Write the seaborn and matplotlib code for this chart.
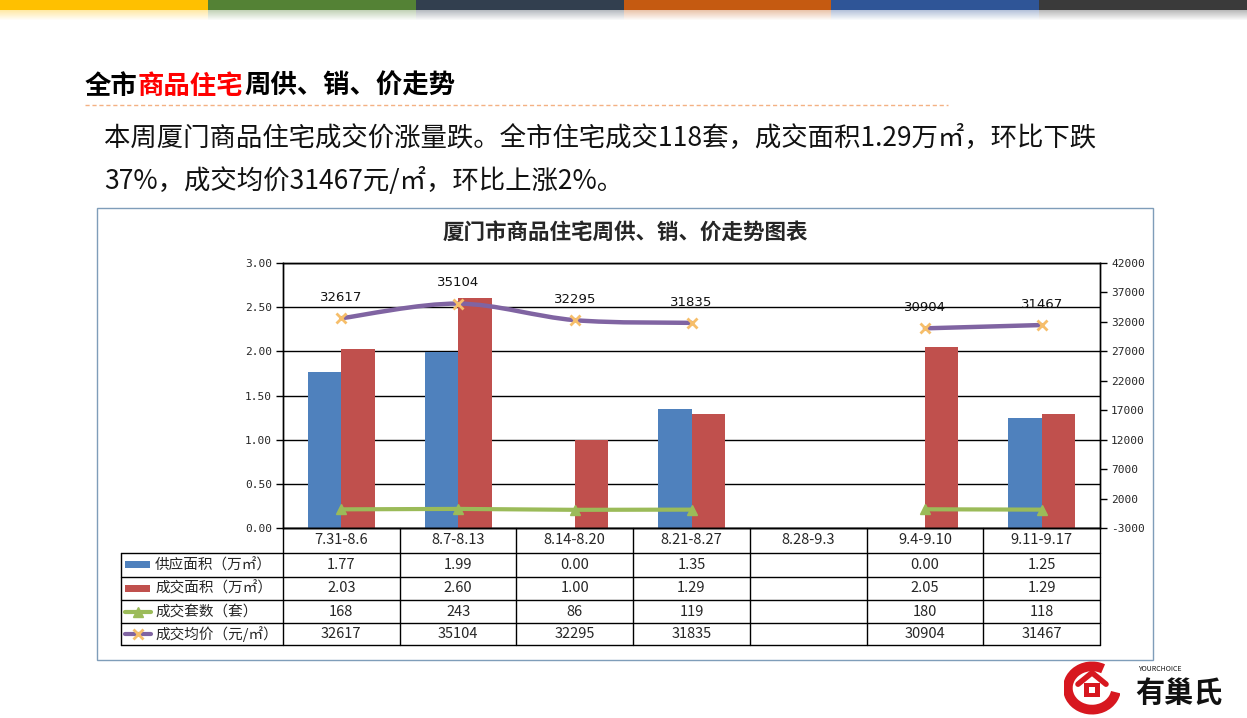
import numpy as np
import pandas as pd
import matplotlib
matplotlib.use("Agg")
import matplotlib.pyplot as plt
import seaborn as sns
from matplotlib.path import Path
from matplotlib.patches import PathPatch, Rectangle, Arc
from matplotlib.lines import Line2D
import matplotlib.transforms as mtransforms

# ---------------- data ----------------
categories = ['7.31-8.6', '8.7-8.13', '8.14-8.20', '8.21-8.27', '8.28-9.3', '9.4-9.10', '9.11-9.17']
supply_area = [1.77, 1.99, 0.00, 1.35, np.nan, 0.00, 1.25]      # 供应面积（万㎡）
deal_area = [2.03, 2.60, 1.00, 1.29, np.nan, 2.05, 1.29]        # 成交面积（万㎡）
deal_units = [168, 243, 86, 119, np.nan, 180, 118]              # 成交套数（套）
avg_price = [32617, 35104, 32295, 31835, np.nan, 30904, 31467]  # 成交均价（元/㎡）
series_names = ['供应面积（万㎡）', '成交面积（万㎡）', '成交套数（套）', '成交均价（元/㎡）']
table_fmt = ['{:.2f}', '{:.2f}', '{:.0f}', '{:.0f}']
left_ticks = [0.0, 0.5, 1.0, 1.5, 2.0, 2.5, 3.0]
right_ticks = [-3000, 2000, 7000, 12000, 17000, 22000, 27000, 32000, 37000, 42000]
band_colors = ['#FFC000', '#548235', '#323F4F', '#C55A11', '#2F5597', '#3A3A3A']

page_title = ['全市', '商品住宅', '周供、销、价走势']
paragraph = ['本周厦门商品住宅成交价涨量跌。全市住宅成交118套，成交面积1.29万㎡，环比下跌',
             '37%，成交均价31467元/㎡，环比上涨2%。']
chart_title = '厦门市商品住宅周供、销、价走势图表'

# colours
C_BLUE, C_RED, C_GREEN, C_PURPLE, C_STAR = '#4F81BD', '#C0504D', '#9BBB59', '#8064A2', '#F6BE6A'

# ---------------- setup ----------------
sns.set_theme(style='white')
plt.rcParams['font.family'] = ['Noto Sans CJK SC', 'DejaVu Sans']

W, H = 1247, 718
fig = plt.figure(figsize=(W / 100, H / 100), dpi=100)
fig.patch.set_facecolor('white')


def fx(x):
    return x / W


def fy(y):
    return 1 - y / H


# top colour bands with fading shadow
bw = W / len(band_colors)
for i, c in enumerate(band_colors):
    fig.add_artist(Rectangle((fx(i * bw), fy(10)), bw / W, 10 / H, transform=fig.transFigure,
                             facecolor=c, edgecolor='none'))
    for k in range(10):
        fig.add_artist(Rectangle((fx(i * bw), fy(11 + k)), bw / W, 1 / H, transform=fig.transFigure,
                                 facecolor=c, edgecolor='none', alpha=0.35 * (1 - k / 10)))

# page title (multi-coloured)
title_x = [85, 138, 244]
title_c = ['black', '#FF0000', 'black']
for t, x, c in zip(page_title, title_x, title_c):
    fig.text(fx(x), fy(86), t, fontsize=19, fontweight='bold', color=c, ha='left', va='center')
fig.add_artist(Line2D([fx(85), fx(948)], [fy(105), fy(105)], transform=fig.transFigure,
                      color='#F4B183', lw=1, ls=(0, (3, 2))))

# paragraph
fig.text(fx(104), fy(138), paragraph[0], fontsize=19, color='#111111', ha='left', va='center')
fig.text(fx(104), fy(181), paragraph[1], fontsize=19, color='#111111', ha='left', va='center')

# chart frame
fig.add_artist(Rectangle((fx(97), fy(660)), (1153 - 97) / W, (660 - 208) / H, transform=fig.transFigure,
                         facecolor='none', edgecolor='#7F9DB9', lw=1))
fig.text(fx(625), fy(232), chart_title, fontsize=15.5, fontweight='bold', ha='center', va='center')

# ---------------- plot area ----------------
ax = fig.add_axes([fx(283), fy(528), (1100 - 283) / W, (528 - 263) / H])
df = pd.DataFrame({
    '周期': categories * 2,
    '系列': [series_names[0]] * len(categories) + [series_names[1]] * len(categories),
    '值': supply_area + deal_area,
})
sns.barplot(data=df, x='周期', y='值', hue='系列', order=categories, hue_order=series_names[:2],
            palette=[C_BLUE, C_RED], width=0.575, gap=0, errorbar=None, saturation=1,
            linewidth=0, legend=False, ax=ax)
ax.set_xlim(-0.5, len(categories) - 0.5)
ax.set_ylim(left_ticks[0], left_ticks[-1])
ax.set_yticks(left_ticks)
ax.set_yticklabels([f'{v:.2f}' for v in left_ticks], fontfamily='DejaVu Sans Mono', fontsize=8)
ax.yaxis.grid(True, color='black', lw=1)
ax.set_axisbelow(True)
ax.set_xlabel('')
ax.set_ylabel('')
ax.tick_params(axis='x', bottom=False, labelbottom=False)
ax.tick_params(axis='y', left=True, direction='out', length=5, width=1, color='black', pad=3)
for s in ax.spines.values():
    s.set_color('black')
    s.set_linewidth(1)

ax2 = ax.twinx()
ax2.set_ylim(right_ticks[0], right_ticks[-1])
ax2.set_yticks(right_ticks)
ax2.set_yticklabels([str(v) for v in right_ticks], fontfamily='DejaVu Sans Mono', fontsize=8)
ax2.tick_params(axis='y', right=True, direction='out', length=5, width=1, color='black', pad=3)
for s in ax2.spines.values():
    s.set_color('black')
    s.set_linewidth(1)
ax2.grid(False)

idx = np.arange(len(categories))
# units line (straight, gap at missing week)
ax2.plot(idx, deal_units, color=C_GREEN, lw=3, marker='^', ms=7, mfc=C_GREEN, mec=C_GREEN, zorder=4)


# price line (smoothed like Excel, gap at missing week)
def smooth_path(xs, ys):
    pts = np.column_stack([xs, ys]).astype(float)
    n = len(pts)
    verts = [pts[0]]
    codes = [Path.MOVETO]
    for i in range(n - 1):
        p0 = pts[i - 1] if i > 0 else pts[i]
        p1, p2 = pts[i], pts[i + 1]
        p3 = pts[i + 2] if i + 2 < n else pts[i + 1]
        verts += [p1 + (p2 - p0) / 6, p2 - (p3 - p1) / 6, p2]
        codes += [Path.CURVE4] * 3
    return Path(verts, codes)


price = np.array(avg_price, dtype=float)
seg = []
segments = []
for i, v in enumerate(price):
    if np.isnan(v):
        if seg:
            segments.append(seg)
        seg = []
    else:
        seg.append(i)
if seg:
    segments.append(seg)
for s in segments:
    ax2.add_patch(PathPatch(smooth_path(idx[s], price[s]), facecolor='none', edgecolor=C_PURPLE,
                            lw=3.2, zorder=5, capstyle='round'))
ax2.plot(idx, price, ls='none', marker='x', ms=7, mew=2, color=C_STAR, zorder=6)
for i, v in enumerate(price):
    if not np.isnan(v):
        ax2.annotate(f'{v:.0f}', (i, v), xytext=(0, 15), textcoords='offset points',
                     ha='center', va='center', fontsize=9.5, fontfamily='DejaVu Sans', color='#111111')

# ---------------- data table ----------------
trans = mtransforms.blended_transform_factory(ax.transData, fig.transFigure)
row_y = [528, 553, 577, 600, 623, 645]
x_left = -0.5 - (283 - 121) / ((1100 - 283) / len(categories))
x_right = len(categories) - 0.5


def hline(x0, x1, y):
    fig.add_artist(Line2D([x0, x1], [fy(y), fy(y)], transform=trans, color='black', lw=1, clip_on=False))


def vline(x, y0, y1):
    fig.add_artist(Line2D([x, x], [fy(y0), fy(y1)], transform=trans, color='black', lw=1, clip_on=False))


hline(-0.5, x_right, row_y[0])
for y in row_y[1:]:
    hline(x_left, x_right, y)
vline(x_left, row_y[1], row_y[-1])
for k in range(len(categories) + 1):
    vline(k - 0.5, row_y[0], row_y[-1])

for i, c in enumerate(categories):
    fig.text(i, fy((row_y[0] + row_y[1]) / 2), c, transform=trans, ha='center', va='center', fontsize=10.5)

rows = [supply_area, deal_area, deal_units, avg_price]
for r, (vals, fmt) in enumerate(zip(rows, table_fmt)):
    yc = fy((row_y[r + 1] + row_y[r + 2]) / 2)
    for i, v in enumerate(vals):
        if not (isinstance(v, float) and np.isnan(v)):
            fig.text(i, yc, fmt.format(v), transform=trans, ha='center', va='center', fontsize=10.5)
    fig.text(fx(155), yc, series_names[r], ha='left', va='center', fontsize=10.5)

# legend keys inside table
for r, col in enumerate([C_BLUE, C_RED]):
    ycen = (row_y[r + 1] + row_y[r + 2]) / 2
    fig.add_artist(Rectangle((fx(125), fy(ycen + 3)), 25 / W, 7 / H, transform=fig.transFigure,
                             facecolor=col, edgecolor='none'))
yc = (row_y[3] + row_y[4]) / 2
fig.add_artist(Line2D([fx(125), fx(151)], [fy(yc), fy(yc)], transform=fig.transFigure, color=C_GREEN, lw=3))
fig.add_artist(Line2D([fx(138)], [fy(yc)], transform=fig.transFigure, color=C_GREEN, marker='^', ms=7))
yc = (row_y[4] + row_y[5]) / 2
fig.add_artist(Line2D([fx(125), fx(151)], [fy(yc), fy(yc)], transform=fig.transFigure, color=C_PURPLE, lw=3))
fig.add_artist(Line2D([fx(138)], [fy(yc)], transform=fig.transFigure, color=C_STAR, marker='x', ms=7, mew=2))

# ---------------- logo ----------------
lax = fig.add_axes([fx(1062), fy(716), 60 / W, 56 / H])
lax.set_xlim(-1.1, 1.1)
lax.set_ylim(-1.1, 1.1)
lax.set_aspect('equal')
lax.axis('off')
lax.add_patch(Arc((0, 0), 1.9, 1.7, theta1=60, theta2=350, color='#D7171F', lw=7))
lax.add_patch(Rectangle((-0.3, -0.35), 0.6, 0.55, facecolor='#D7171F', edgecolor='none'))
lax.plot([-0.55, 0, 0.55], [0.15, 0.6, 0.15], color='#D7171F', lw=4)
lax.add_patch(Rectangle((-0.12, -0.2), 0.24, 0.24, facecolor='white', edgecolor='none'))
fig.text(fx(1135), fy(693), '有巢氏', fontsize=21, fontweight='bold', color='#111111', ha='left', va='center')
fig.text(fx(1138), fy(669), 'YOURCHOICE', fontsize=5, style='italic', color='#111111', ha='left', va='center')

fig.savefig('out.png', dpi=100, facecolor='white')
